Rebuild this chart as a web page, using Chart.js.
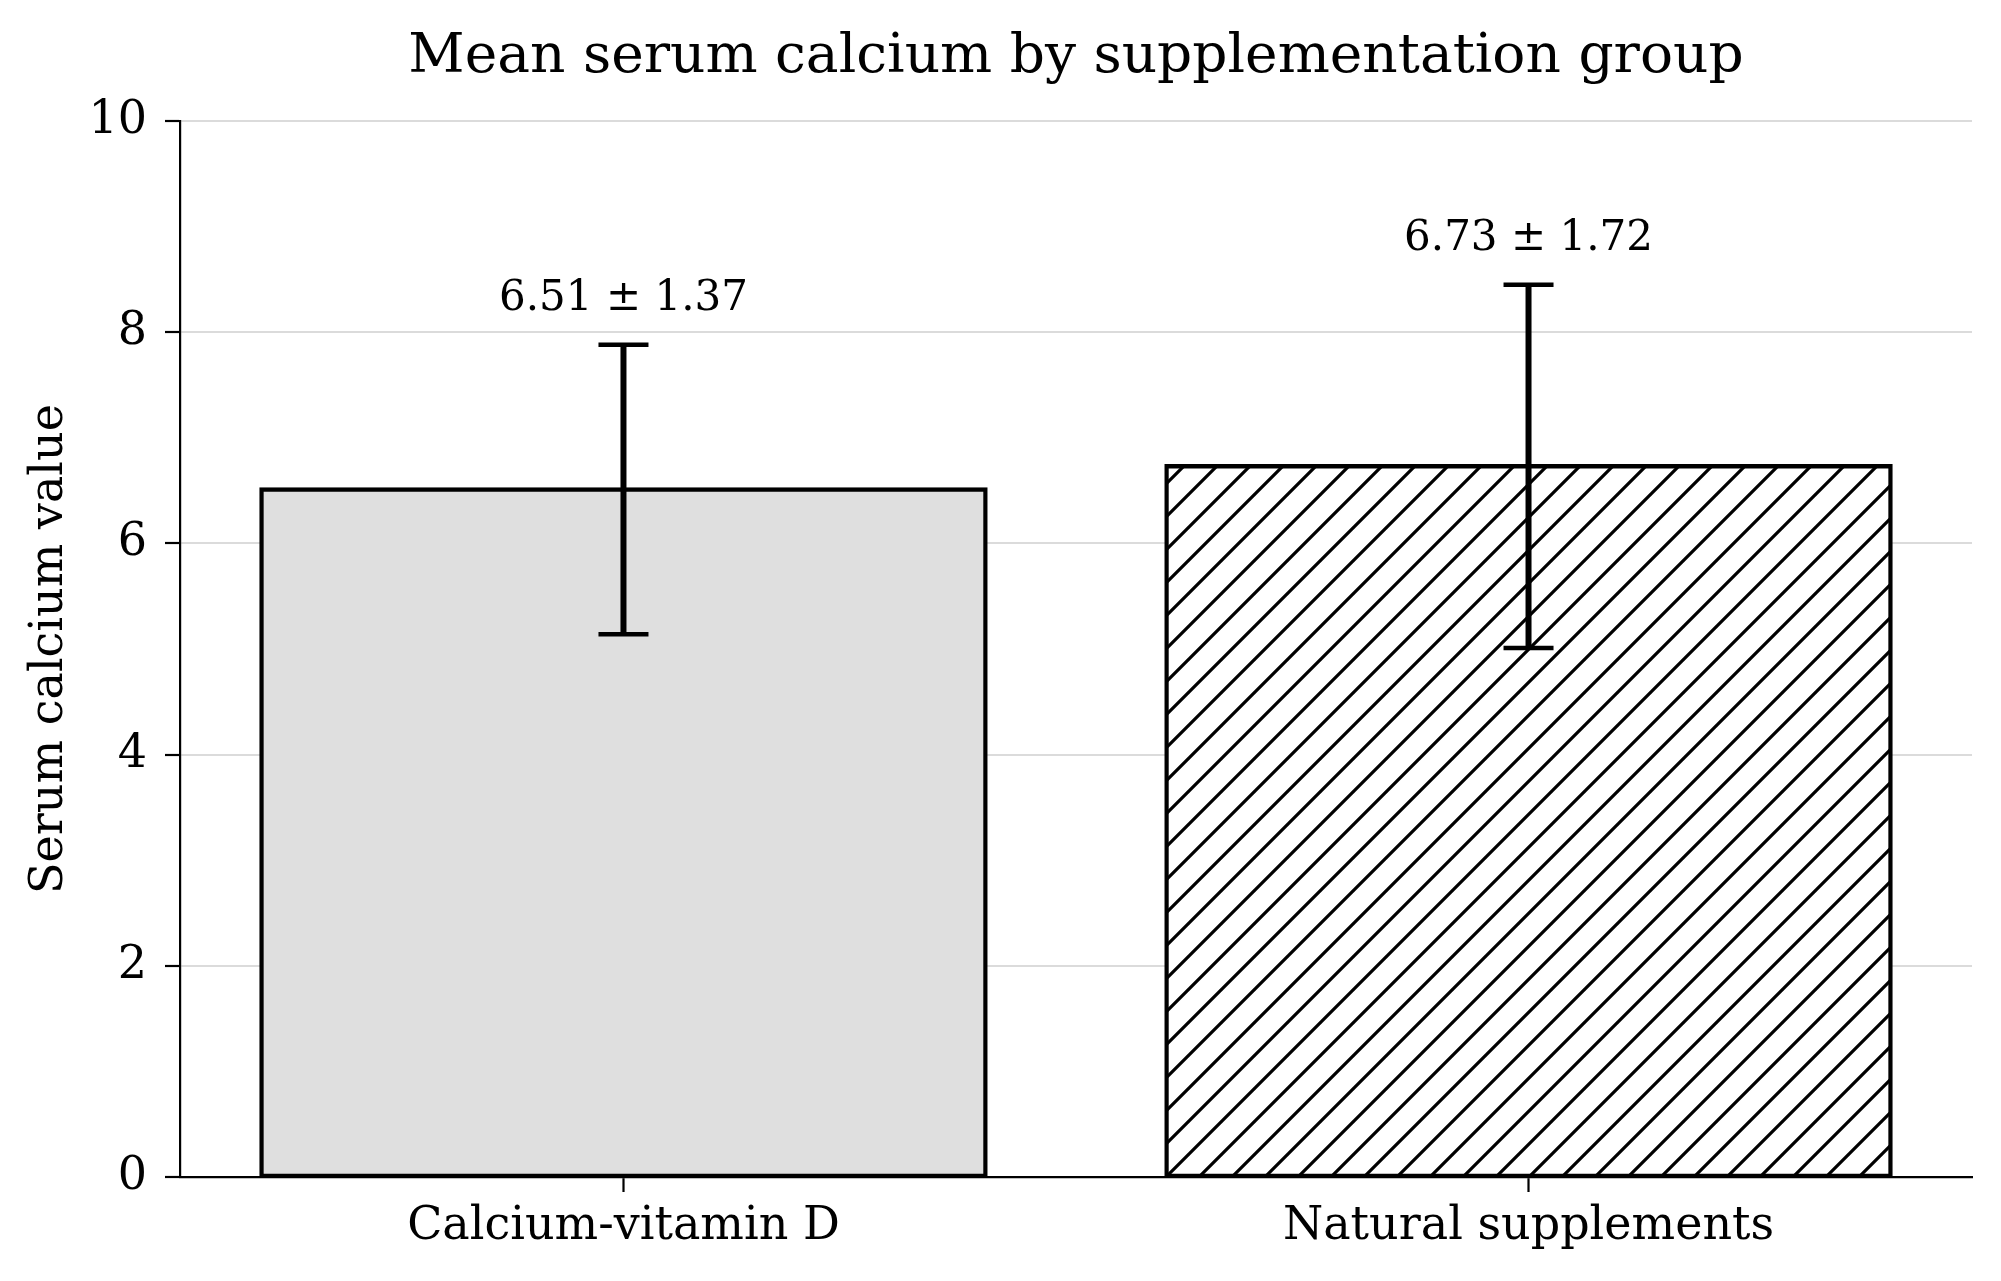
<!DOCTYPE html>
<html>
<head>
<meta charset="utf-8">
<title>Mean serum calcium by supplementation group</title>
<script src="https://cdn.jsdelivr.net/npm/chart.js@4.4.1/dist/chart.umd.min.js"></script>
<style>
  html, body { margin: 0; padding: 0; background: #fff; }
  canvas { display: block; }
</style>
</head>
<body>
<canvas id="chart" width="2001" height="1281"></canvas>
<script>
// values
const groups = ['Calcium-vitamin D', 'Natural supplements'];
const means = [6.51, 6.73];
const sds = [1.37, 1.72];
const yTicks = [0, 2, 4, 6, 8, 10];

const serif = "'DejaVu Serif', 'Liberation Serif', serif";

// '//' hatch for the second bar
function makeHatch() {
  var s = 33;
  var c = document.createElement('canvas');
  c.width = s; c.height = s;
  var g = c.getContext('2d');
  g.fillStyle = '#fff';
  g.fillRect(0, 0, s, s);
  g.strokeStyle = '#000';
  g.lineWidth = 3.2;
  g.beginPath();
  g.moveTo(-2, s + 2); g.lineTo(s + 2, -2);
  g.moveTo(-3, 3); g.lineTo(3, -3);
  g.moveTo(s - 3, s + 3); g.lineTo(s + 3, s - 3);
  g.stroke();
  return g.createPattern(c, 'repeat');
}

var ctx = document.getElementById('chart').getContext('2d');
var hatch = makeHatch();

// error bars and the "mean ± sd" labels, placed through the scales
var errorBars = {
  id: 'errorBars',
  afterDraw: function(chart) {
    var xs = chart.scales.x, ys = chart.scales.y, c = chart.ctx;
    c.save();
    c.strokeStyle = '#000';
    c.fillStyle = '#000';
    for (var i = 0; i < means.length; i++) {
      var x = xs.getPixelForValue(i);
      var top = ys.getPixelForValue(means[i] + sds[i]);
      var bot = ys.getPixelForValue(means[i] - sds[i]);
      c.lineWidth = 6;
      c.beginPath();
      c.moveTo(x, top); c.lineTo(x, bot);
      c.stroke();
      c.lineWidth = 4.5;
      c.beginPath();
      c.moveTo(x - 25, top); c.lineTo(x + 25, top);
      c.moveTo(x - 25, bot); c.lineTo(x + 25, bot);
      c.stroke();
      c.font = '42px ' + serif;
      c.textAlign = 'center';
      c.textBaseline = 'alphabetic';
      c.fillText(means[i].toFixed(2) + ' \u00b1 ' + sds[i].toFixed(2), x, top - 35);
    }
    c.restore();
  }
};

var chart = new Chart(ctx, {
  type: 'bar',
  data: {
    datasets: [{
      data: means.map(function(m, i) { return {x: i, y: m}; }),
      backgroundColor: ['#dfdfdf', hatch],
      borderColor: '#000',
      borderWidth: 4.4,
      borderSkipped: false,
      inflateAmount: 2.2,
      barPercentage: 0.8,
      categoryPercentage: 1.0
    }]
  },
  options: {
    responsive: false,
    devicePixelRatio: 1,
    animation: false,
    layout: { padding: { top: 0, left: 0, right: 29, bottom: 0 } },
    plugins: {
      legend: { display: false },
      tooltip: { enabled: false },
      title: {
        display: true,
        fullSize: false,
        text: 'Mean serum calcium by supplementation group',
        color: '#000',
        font: { family: serif, size: 55, weight: 'normal' },
        padding: { top: 25, bottom: 30 }
      }
    },
    scales: {
      x: {
        type: 'linear',
        min: -0.49,
        max: 1.49,
        offset: false,
        z: 1,
        afterBuildTicks: function(scale) {
          scale.ticks = groups.map(function(g, i) { return {value: i}; });
        },
        afterFit: function(scale) { scale.height = 104; },
        ticks: {
          autoSkip: false,
          maxRotation: 0,
          padding: 7,
          color: '#000',
          font: { family: serif, size: 46 },
          callback: function(v) { return groups[v]; }
        },
        grid: {
          offset: false,
          drawOnChartArea: false,
          tickColor: '#000',
          tickLength: 15,
          tickWidth: 2.2
        },
        border: { color: '#000', width: 2.2 }
      },
      y: {
        min: 0,
        max: 10,
        z: 1,
        afterBuildTicks: function(scale) {
          scale.ticks = yTicks.map(function(v) { return {value: v}; });
        },
        afterFit: function(scale) { scale.width = 180; },
        ticks: {
          padding: 18,
          color: '#000',
          font: { family: serif, size: 46 }
        },
        grid: {
          color: 'rgba(0,0,0,0.14)',
          lineWidth: 2,
          tickColor: '#000',
          tickLength: 15,
          tickWidth: 2.2
        },
        border: { color: '#000', width: 2.2 },
        title: {
          display: true,
          text: 'Serum calcium value',
          color: '#000',
          font: { family: serif, size: 46 },
          padding: { top: 22, bottom: 0 }
        }
      }
    }
  },
  plugins: [errorBars]
});
</script>
</body>
</html>
